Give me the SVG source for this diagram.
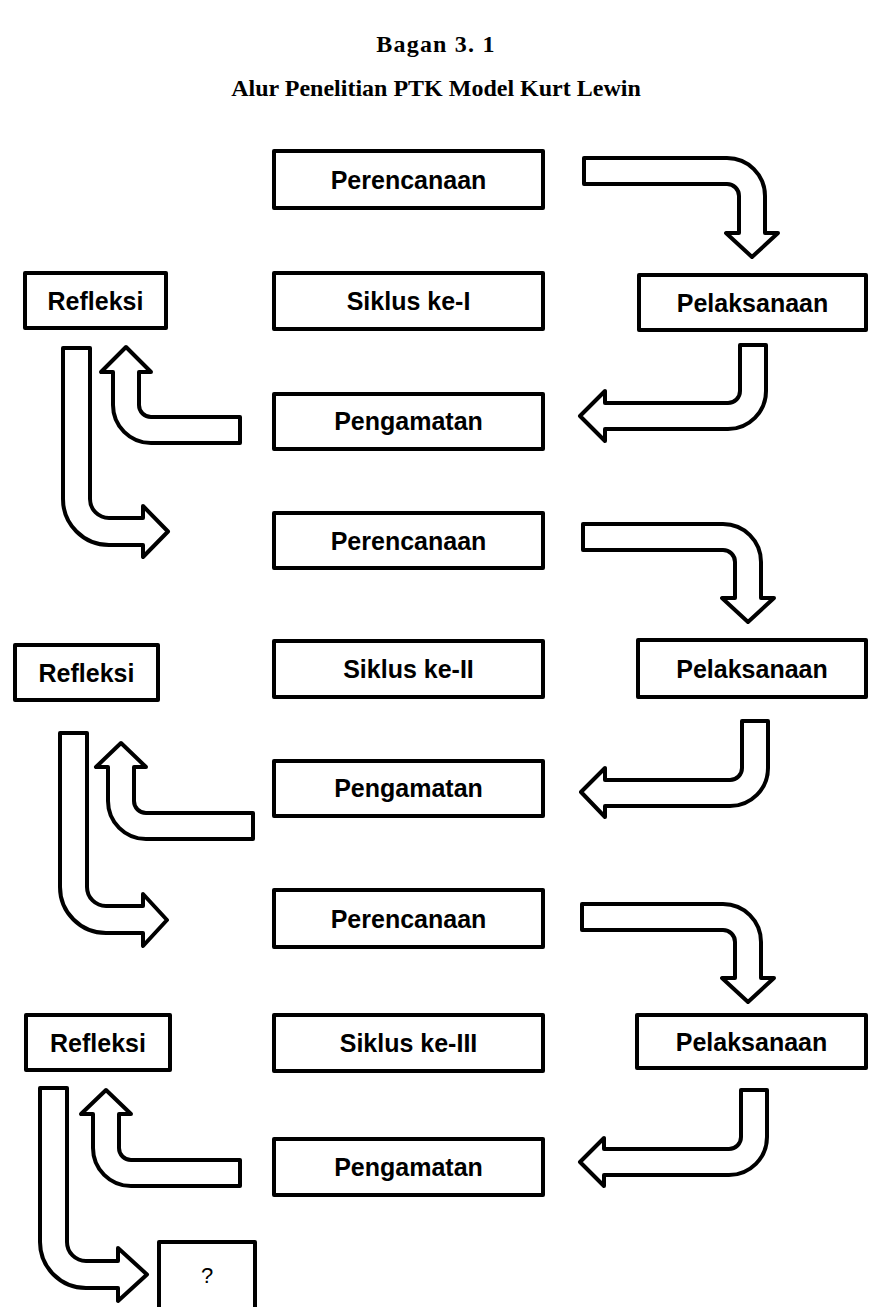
<svg xmlns="http://www.w3.org/2000/svg" width="872" height="1307" viewBox="0 0 872 1307">
<style>
.box{fill:#fff;stroke:#000;stroke-width:4;stroke-linejoin:round}
.arr{fill:#fff;stroke:#000;stroke-width:4;stroke-linejoin:round}
.lbl{font-family:"Liberation Sans",Arial,sans-serif;font-weight:bold;font-size:25px;text-anchor:middle;fill:#000}
.ttl{font-family:"Liberation Serif","Times New Roman",serif;font-weight:bold;font-size:24px;text-anchor:middle;fill:#000}
.q{font-family:"Liberation Sans",Arial,sans-serif;font-size:22px;text-anchor:middle;fill:#000}
</style>
<rect width="872" height="1307" fill="#fff"/>
<g id="title">
<text class="ttl" x="436" y="52" font-size="25" letter-spacing="1.2">Bagan 3. 1</text>
<text class="ttl" x="436" y="96">Alur Penelitian PTK Model Kurt Lewin</text>
</g>
<g id="connectors">
<!-- cycle 1 -->
<path class="arr" d="M584,158 L727,158 A38,38 0 0 1 765,196 L765,233 L778,233 L752,257 L726,233 L739,233 L739,196 A12,12 0 0 0 727,184 L584,184 Z"/>
<path class="arr" d="M740,345 L766,345 L766,391 A38,38 0 0 1 728,429 L605,429 L605,441 L580,416 L605,391 L605,403 L728,403 A12,12 0 0 0 740,391 Z"/>
<path class="arr" d="M240,417 L151,417 A12,12 0 0 1 139,405 L139,372 L151,372 L126,347 L101,372 L113,372 L113,405 A38,38 0 0 0 151,443 L240,443 Z"/>
<path class="arr" d="M63,348 L90,348 L90,499 A19,19 0 0 0 109,518 L143,518 L143,506 L168,531.5 L143,557 L143,545 L109,545 A46,46 0 0 1 63,499 Z"/>
<!-- cycle 2 -->
<path class="arr" d="M583,524 L723,524 A38,38 0 0 1 761,562 L761,598 L774,598 L748,622 L722,598 L735,598 L735,562 A12,12 0 0 0 723,550 L583,550 Z"/>
<path class="arr" d="M742,721 L768,721 L768,768 A38,38 0 0 1 730,806 L605,806 L605,817 L581,792 L605,768 L605,780 L730,780 A12,12 0 0 0 742,768 Z"/>
<path class="arr" d="M253,813 L146,813 A12,12 0 0 1 134,801 L134,767 L146,767 L121,743 L96,767 L108,767 L108,801 A38,38 0 0 0 146,839 L253,839 Z"/>
<path class="arr" d="M60,733 L87,733 L87,887 A19,19 0 0 0 106,906 L143,906 L143,894 L167,920 L143,946 L143,933 L106,933 A46,46 0 0 1 60,887 Z"/>
<!-- cycle 3 -->
<path class="arr" d="M582,904 L723,904 A38,38 0 0 1 761,942 L761,978 L774,978 L748,1002 L722,978 L735,978 L735,942 A12,12 0 0 0 723,930 L582,930 Z"/>
<path class="arr" d="M741,1090 L767,1090 L767,1137 A38,38 0 0 1 729,1175 L604,1175 L604,1186 L580,1162 L604,1138 L604,1149 L729,1149 A12,12 0 0 0 741,1137 Z"/>
<path class="arr" d="M240,1160 L131,1160 A12,12 0 0 1 119,1148 L119,1114 L131,1114 L106,1090 L81,1114 L93,1114 L93,1148 A38,38 0 0 0 131,1186 L240,1186 Z"/>
<path class="arr" d="M40,1088 L67,1088 L67,1242 A19,19 0 0 0 86,1261 L118,1261 L118,1248 L147,1274.5 L118,1301 L118,1288 L86,1288 A46,46 0 0 1 40,1242 Z"/>
</g>
<g id="perencanaan1"><rect class="box" x="274" y="151" width="269" height="57"/><text class="lbl" x="408.5" y="189">Perencanaan</text></g>
<g id="siklus1"><rect class="box" x="274" y="273" width="269" height="56"/><text class="lbl" x="408.5" y="310">Siklus ke-I</text></g>
<g id="pengamatan1"><rect class="box" x="274" y="394" width="269" height="55"/><text class="lbl" x="408.5" y="430">Pengamatan</text></g>
<g id="refleksi1"><rect class="box" x="25" y="273" width="141" height="55"/><text class="lbl" x="95.5" y="310">Refleksi</text></g>
<g id="pelaksanaan1"><rect class="box" x="639" y="275" width="227" height="55"/><text class="lbl" x="752.5" y="312">Pelaksanaan</text></g>

<g id="perencanaan2"><rect class="box" x="274" y="513" width="269" height="55"/><text class="lbl" x="408.5" y="550">Perencanaan</text></g>
<g id="siklus2"><rect class="box" x="274" y="641" width="269" height="56"/><text class="lbl" x="408.5" y="678">Siklus ke-II</text></g>
<g id="pengamatan2"><rect class="box" x="274" y="761" width="269" height="55"/><text class="lbl" x="408.5" y="797">Pengamatan</text></g>
<g id="refleksi2"><rect class="box" x="15" y="645" width="143" height="55"/><text class="lbl" x="86.5" y="682">Refleksi</text></g>
<g id="pelaksanaan2"><rect class="box" x="638" y="640" width="228" height="57"/><text class="lbl" x="752" y="678">Pelaksanaan</text></g>

<g id="perencanaan3"><rect class="box" x="274" y="890" width="269" height="57"/><text class="lbl" x="408.5" y="928">Perencanaan</text></g>
<g id="siklus3"><rect class="box" x="274" y="1015" width="269" height="56"/><text class="lbl" x="408.5" y="1052">Siklus ke-III</text></g>
<g id="pengamatan3"><rect class="box" x="274" y="1139" width="269" height="56"/><text class="lbl" x="408.5" y="1176">Pengamatan</text></g>
<g id="refleksi3"><rect class="box" x="26" y="1015" width="144" height="55"/><text class="lbl" x="98" y="1052">Refleksi</text></g>
<g id="pelaksanaan3"><rect class="box" x="637" y="1015" width="229" height="53"/><text class="lbl" x="751.5" y="1051">Pelaksanaan</text></g>

<g id="unknown"><rect class="box" x="159" y="1242" width="96" height="80"/><text class="q" x="207" y="1283">?</text></g>
</svg>
